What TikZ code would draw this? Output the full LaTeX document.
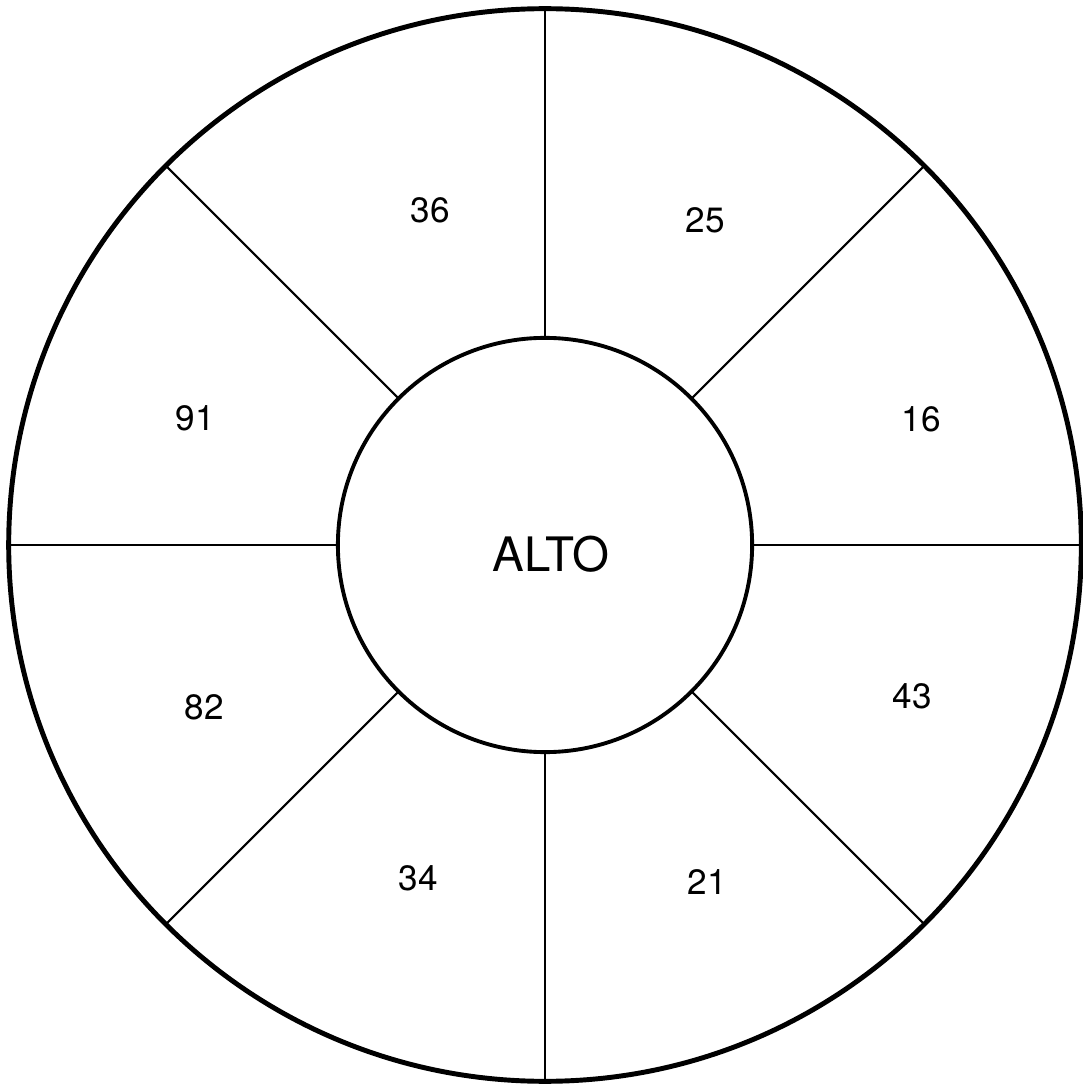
\documentclass[tikz,border=0pt]{standalone}
\usepackage{fontspec}
\setmainfont{TeX Gyre Heros}
\begin{document}
\begin{tikzpicture}[x=0.01cm,y=-0.01cm,
  ring/.style={circle,draw,inner sep=0pt,outer sep=0pt},
  spoke/.style={line width=0.6pt},
  num/.style={font=\fontsize{10}{12}\selectfont},
  big/.style={font=\fontsize{13.5}{16}\selectfont}]
\useasboundingbox (0,0) rectangle (1082,1086);
\node[ring,line width=1.4pt,minimum size=10.72cm] (outer) at (545,545) {};
\node[ring,line width=1.1pt,minimum size=4.14cm] (inner) at (545,545) {};
\foreach \a in {0,45,...,315}{
  \draw[spoke] (inner.\a) -- (outer.\a);
}
\node[big] (alto) at (551,554) {ALTO};
\node[num] (n36) at (430,210) {36};
\node[num] (n25) at (705,220) {25};
\node[num] (n16) at (921,419) {16};
\node[num] (n43) at (912,696) {43};
\node[num] (n21) at (707,882) {21};
\node[num] (n34) at (418,878) {34};
\node[num] (n82) at (204,707) {82};
\node[num] (n91) at (195,418) {91};
\end{tikzpicture}
\end{document}
